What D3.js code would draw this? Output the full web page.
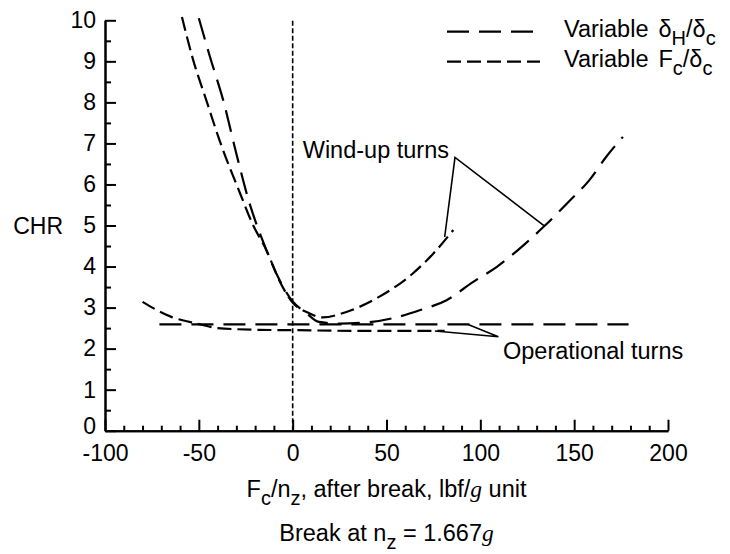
<!DOCTYPE html>
<html>
<head>
<meta charset="utf-8">
<script src="https://cdn.jsdelivr.net/npm/d3@7"></script>
<style>
  body { margin: 0; background: #fff; }
  svg { font-family: "Liberation Sans", Arial, sans-serif; }
  .ax path, .ax line { stroke: #000; stroke-width: 2; }
  .ax text { font-size: 23px; fill: #000; }
</style>
</head>
<body>
<svg width="730" height="554"></svg>
<script>
var svgWidth = 730, svgHeight = 554;

// x ticks and y ticks
var xMajor = [-100, -50, 0, 50, 100, 150, 200];
var xMinor = d3.range(-90, 200, 10).filter(function (d) { return d % 50 !== 0; });
var yMajor = [0, 1, 2, 3, 4, 5, 6, 7, 8, 9, 10];
var yMinor = d3.range(0.5, 10, 1);

// wind-up turns, variable dH/dc (long dash)
var windupDeltaH = [
  [-50, 10.05], [-44, 9.1], [-37, 8.05], [-30, 6.75], [-24, 5.7], [-14, 4.4],
  [-7, 3.67], [0, 3.15], [7, 2.88], [14, 2.65], [25, 2.61], [40, 2.64],
  [55, 2.76], [68, 2.94], [82, 3.18], [96, 3.62], [109, 4.0], [124, 4.56],
  [134, 4.98], [148, 5.62], [158, 6.1], [167, 6.67], [176, 7.16]
];
// wind-up turns, variable Fc/dc (short dash)
var windupFc = [
  [-59, 10.08], [-53, 9.03], [-46, 8.05], [-39, 7.08], [-28, 5.78], [-21, 5.0],
  [-14, 4.4], [-7, 3.65], [0, 3.12], [8, 2.88], [16, 2.76], [29, 2.9],
  [46, 3.26], [64, 3.83], [75, 4.32], [85.6, 4.89]
];
// operational turns
var operDeltaH = [[-71, 2.59], [179, 2.59]];
var operFc = [
  [-80, 3.14], [-65, 2.78], [-51, 2.61], [-40, 2.5], [-20, 2.46], [0, 2.45],
  [40, 2.43], [81, 2.43]
];

var svg = d3.select('svg');

var x = d3.scaleLinear().domain([-100, 200]).range([105, 668]);
var y = d3.scaleLinear().domain([0, 10]).range([430.7, 20.3]);

// axes, ticks pointing inward
svg.append('g')
    .attr('class', 'ax')
    .attr('transform', 'translate(0,' + y(0) + ')')
    .call(d3.axisBottom(x).tickValues(xMinor).tickSize(-5).tickSizeOuter(0).tickFormat(''));
svg.append('g')
    .attr('class', 'ax')
    .attr('transform', 'translate(0,' + y(0) + ')')
    .call(d3.axisBottom(x).tickValues(xMajor).tickSize(-11).tickSizeOuter(0).tickPadding(14)
      .tickFormat(function (d) { return String(d); }));

svg.append('g')
    .attr('class', 'ax')
    .attr('transform', 'translate(' + x(-100) + ',0)')
    .call(d3.axisLeft(y).tickValues(yMinor).tickSize(-6).tickSizeOuter(0).tickFormat(''));
var yAx = svg.append('g')
    .attr('class', 'ax')
    .attr('transform', 'translate(' + x(-100) + ',0)')
    .call(d3.axisLeft(y).tickValues(yMajor).tickSize(-11).tickSizeOuter(0).tickPadding(9));
yAx.selectAll('.tick text').filter(function (d) { return d === 0; }).attr('dy', '0.12em');

// zero line
svg.append('line')
    .attr('x1', x(0)).attr('x2', x(0))
    .attr('y1', y(0)).attr('y2', y(10))
    .attr('stroke', '#000').attr('stroke-width', 1.6)
    .attr('stroke-dasharray', '5,2.5');

var line = d3.line()
    .x(function (d) { return x(d[0]); })
    .y(function (d) { return y(d[1]); })
    .curve(d3.curveMonotoneX);

var LONG = '22,10', SHORT = '14,6';

function curve(data, dash) {
  svg.append('path')
      .datum(data)
      .attr('d', line)
      .attr('fill', 'none')
      .attr('stroke', '#000')
      .attr('stroke-width', 2.2)
      .attr('stroke-dasharray', dash);
}
curve(windupDeltaH, LONG);
curve(windupFc, SHORT);
curve(operDeltaH, LONG);
curve(operFc, SHORT);

// annotations
var ann = svg.append('g').attr('stroke', '#000').attr('stroke-width', 1.6).attr('fill', 'none');
ann.append('polyline').attr('points', [
  [x(81), y(4.72)], [x(86.5), y(6.66)], [x(134.4), y(4.98)]
].join(' '));
ann.append('polyline').attr('points', [
  [x(75.8), y(2.43)], [x(109.6), y(2.29)], [x(93.5), y(2.59)]
].join(' '));

svg.append('text').attr('x', 449).attr('y', 158).attr('text-anchor', 'end')
    .attr('font-size', 23.5).text('Wind-up turns');
svg.append('text').attr('x', 503).attr('y', 358.5)
    .attr('font-size', 23.5).text('Operational turns');

svg.append('text').attr('x', 63).attr('y', 234).attr('text-anchor', 'end')
    .attr('font-size', 23).text('CHR');

// legend
function legendRow(yy, dash, main, sub) {
  svg.append('line')
      .attr('x1', 447).attr('x2', 540).attr('y1', yy).attr('y2', yy)
      .attr('stroke', '#000').attr('stroke-width', 2.2)
      .attr('stroke-dasharray', dash);
  var t = svg.append('text').attr('x', 564).attr('y', yy + 5.5).attr('font-size', 23.5);
  t.append('tspan').text('Variable');
  t.append('tspan').attr('dx', 10).text(main);
  t.append('tspan').attr('font-size', 20).attr('dy', 8).text(sub);
  t.append('tspan').attr('dy', -8).text('/δ');
  t.append('tspan').attr('font-size', 20).attr('dy', 8).text('c');
}
legendRow(31.7, LONG, 'δ', 'H');
legendRow(61.7, SHORT, 'F', 'c');

// axis title
var xt = svg.append('text').attr('x', 386.5).attr('y', 497)
    .attr('text-anchor', 'middle').attr('font-size', 23.5);
xt.append('tspan').text('F');
xt.append('tspan').attr('font-size', 20).attr('dy', 8).text('c');
xt.append('tspan').attr('dy', -8).text('/n');
xt.append('tspan').attr('font-size', 20).attr('dy', 8).text('z');
xt.append('tspan').attr('dy', -8).text(', after break, lbf/');
xt.append('tspan').attr('font-family', '"Liberation Serif", serif').attr('font-style', 'italic').text('g');
xt.append('tspan').text(' unit');

var bt = svg.append('text').attr('x', 386.5).attr('y', 541)
    .attr('text-anchor', 'middle').attr('font-size', 23.5);
bt.append('tspan').text('Break at n');
bt.append('tspan').attr('font-size', 20).attr('dy', 8).text('z');
bt.append('tspan').attr('dy', -8).text(' = 1.667');
bt.append('tspan').attr('font-family', '"Liberation Serif", serif').attr('font-style', 'italic').text('g');
</script>
</body>
</html>
